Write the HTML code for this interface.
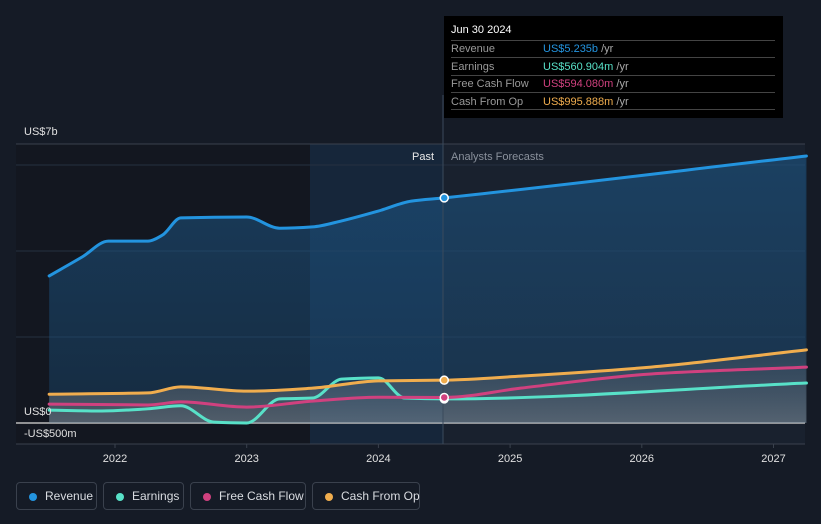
<!DOCTYPE html>
<html><head><meta charset="utf-8"><style>
body{margin:0;background:#151b26;font-family:"Liberation Sans",sans-serif;}
svg{display:block}
.leg{position:absolute;top:482px;height:28px;border:1px solid #3a414d;border-radius:4px;color:#d9dce1;font-size:12px;line-height:26px;box-sizing:border-box;padding-left:28px;white-space:nowrap}
.leg i{position:absolute;left:12px;top:10px;width:8px;height:8px;border-radius:50%}
</style></head><body>
<div style="position:relative;width:821px;height:524px;overflow:hidden">
<svg id="c" width="821" height="524"></svg>
<div style="position:absolute;left:444px;top:16px;width:339px;height:102px;background:#000">
 <div style="position:absolute;left:7px;top:8px;color:#fff;font-size:11px">Jun 30 2024</div>
 <div style="position:absolute;left:7px;top:24px;width:324px;border-top:1px solid #444"></div>
 <div style="position:absolute;left:7px;top:41px;width:324px;border-top:1px solid #444"></div>
 <div style="position:absolute;left:7px;top:59px;width:324px;border-top:1px solid #444"></div>
 <div style="position:absolute;left:7px;top:76px;width:324px;border-top:1px solid #444"></div>
 <div style="position:absolute;left:7px;top:93px;width:324px;border-top:1px solid #444"></div>
 <div style="position:absolute;left:7px;top:25px;color:#999;font-size:11px;line-height:17.5px">Revenue<br>Earnings<br>Free Cash Flow<br>Cash From Op</div>
 <div style="position:absolute;left:99px;top:25px;font-size:11px;line-height:17.5px;color:#aaa"><span style="color:#2394df">US$5.235b</span> /yr<br><span style="color:#58e1c8">US$560.904m</span> /yr<br><span style="color:#d0417f">US$594.080m</span> /yr<br><span style="color:#f0ad4e">US$995.888m</span> /yr</div>
</div>
<div class="leg" style="left:16px;width:81px"><i style="background:#2394df"></i>Revenue</div>
<div class="leg" style="left:103px;width:81px"><i style="background:#58e1c8"></i>Earnings</div>
<div class="leg" style="left:190px;width:116px"><i style="background:#d0417f"></i>Free Cash Flow</div>
<div class="leg" style="left:312px;width:108px"><i style="background:#f0ad4e"></i>Cash From Op</div>
</div>
<script>
const revT=[2021.5,2021.75,2021.95,2022.25,2022.36,2022.5,2023.0,2023.25,2023.5,2023.72,2024.0,2024.25,2024.5,2027.25];
const revV=[3.42,3.86,4.23,4.23,4.37,4.77,4.79,4.53,4.56,4.70,4.93,5.16,5.235,6.21];
const earnT=[2021.5,2021.9,2022.25,2022.5,2022.75,2023.0,2023.25,2023.5,2023.72,2024.0,2024.2,2024.5,2027.25];
const earnV=[0.30,0.28,0.33,0.40,0.02,0.0,0.56,0.58,1.02,1.05,0.58,0.561,0.93];
const fcfT=[2021.5,2022.25,2022.5,2023.0,2023.5,2024.0,2024.5,2025.08,2026.07,2027.25];
const fcfV=[0.44,0.42,0.49,0.37,0.51,0.60,0.594,0.81,1.14,1.30];
const cfoT=[2021.5,2022.25,2022.5,2023.0,2023.5,2024.0,2024.5,2025.08,2026.07,2027.25];
const cfoV=[0.67,0.70,0.84,0.74,0.81,0.98,0.996,1.09,1.30,1.70];
const yearTicks=[2022,2023,2024,2025,2026,2027];
const yTicks=[0,2,4,6];
const X=t=>115+(t-2022)*131.7, Y=v=>423-v*43;
const svg=document.getElementById('c'),NS='http://www.w3.org/2000/svg';
function el(tag,a,parent){const e=document.createElementNS(NS,tag);for(const k in a)e.setAttribute(k,a[k]);(parent||svg).appendChild(e);return e;}
function path(T,V){const x=T.map(X),y=V.map(Y),n=x.length;const d=[],m=[];
 for(let i=0;i<n-1;i++)d.push((y[i+1]-y[i])/(x[i+1]-x[i]));
 m[0]=d[0];m[n-1]=d[n-2];
 for(let i=1;i<n-1;i++){m[i]=(d[i-1]*d[i]<=0)?0:2/(1/d[i-1]+1/d[i]);}
 let s='M'+x[0]+','+y[0];
 for(let i=0;i<n-1;i++){const h=(x[i+1]-x[i])/3;s+=' C'+(x[i]+h)+','+(y[i]+m[i]*h)+' '+(x[i+1]-h)+','+(y[i+1]-m[i+1]*h)+' '+x[i+1]+','+y[i+1];}
 return s;}
const defs=el('defs',{});
defs.innerHTML='<linearGradient id="gr" x1="0" y1="0" x2="0" y2="1"><stop offset="0" stop-color="#1d5a8c" stop-opacity="0.55"/><stop offset="1" stop-color="#1d5a8c" stop-opacity="0.3"/></linearGradient><linearGradient id="gl" x1="0" y1="0" x2="0" y2="1"><stop offset="0" stop-color="#888" stop-opacity="0.15"/><stop offset="1" stop-color="#aaa" stop-opacity="0.4"/></linearGradient>';
let r=el('rect',{x:16,y:144,width:294,height:300,fill:'#131720'});
r=el('rect',{x:310,y:144,width:133,height:300,fill:'#16263a'});
r=el('rect',{x:443,y:144,width:362,height:300,fill:'#19212e'});
yTicks.forEach(v=>{const g=el('line',{x1:16,x2:805,y1:Y(v),y2:Y(v),stroke:v?'#253040':'#bbb','stroke-width':v?1:1.5});});
el('line',{x1:16,x2:805,y1:144,y2:144,stroke:'#3a414d'});el('line',{x1:16,x2:805,y1:444,y2:444,stroke:'#3a414d'});
const rd=path(revT,revV);
let a=el('path',{d:rd+' L'+X(revT[revT.length-1])+','+Y(0)+' L'+X(revT[0])+','+Y(0)+'Z',fill:'url(#gr)'});
a=el('path',{d:path(cfoT,cfoV)+' L'+X(cfoT[cfoT.length-1])+','+Y(0)+' L'+X(cfoT[0])+','+Y(0)+'Z',fill:'url(#gl)'});
el('line',{x1:443,x2:443,y1:95,y2:444,stroke:'#3a4a5c'});
const series=[['earnings',earnT,earnV,'#58e1c8'],['free-cash-flow',fcfT,fcfV,'#d0417f'],['cash-from-op',cfoT,cfoV,'#f0ad4e'],['revenue',revT,revV,'#2394df']];
series.forEach(s=>{const p=el('path',{d:path(s[1],s[2]),fill:'none',stroke:s[3],'stroke-width':3,'stroke-linecap':'round'});

const i=s[1].indexOf(2024.5);const c=el('circle',{cx:X(s[1][i]),cy:Y(s[2][i]),r:4,fill:s[3],stroke:'#fff','stroke-width':1.5});
});
function txt(x,y,s,fill,anchor,name){const t=el('text',{x,y,fill,'font-size':11,'text-anchor':anchor||'start'});t.textContent=s;}
txt(24,135,'US$7b','#e0e0e0','start','y-label-top');
txt(24,415,'US$0','#e0e0e0','start','y-label-zero');
txt(24,437,'-US$500m','#e0e0e0','start','y-label-negative');
txt(434,160,'Past','#e8e8e8','end','past-label');
txt(451,160,'Analysts Forecasts','#8a919c','start','forecast-label');
yearTicks.forEach(y=>{el('line',{x1:X(y),x2:X(y),y1:444,y2:448,stroke:'#3a414d'});txt(X(y),462,String(y),'#e0e0e0','middle','x-tick-label');});
</script>
</body></html>
